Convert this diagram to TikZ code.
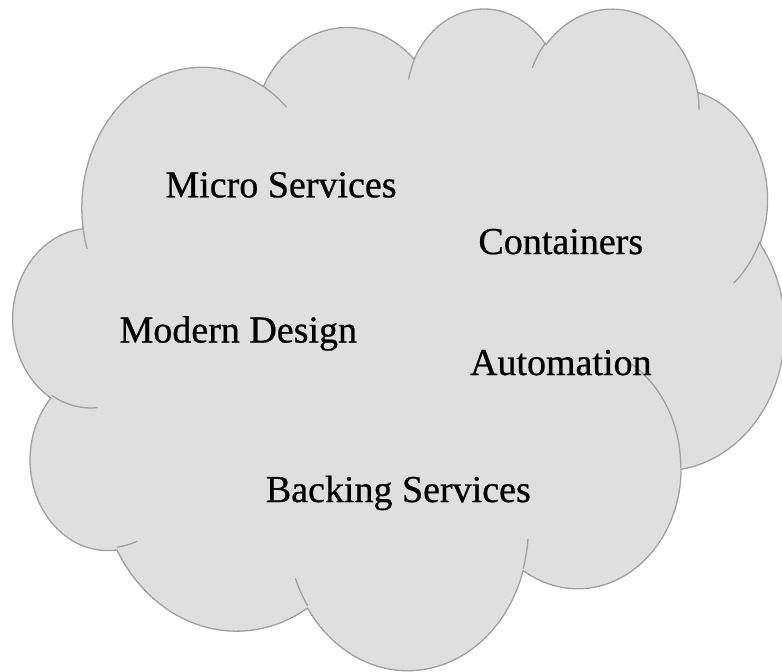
\documentclass[tikz,border=0pt]{standalone}
\usepackage{fontspec}
\setmainfont{Liberation Serif}
\newfontfamily\lblfont{Liberation Serif}[FakeBold=0.7]
\definecolor{cloudfill}{RGB}{223,223,223}
\definecolor{cloudline}{RGB}{160,160,160}
\begin{document}
\begin{tikzpicture}[x=1pt,y=-1pt,
  cloudshape/.style={fill=cloudfill, draw=cloudline, line width=1.3pt, line join=round},
  cloudinner/.style={draw=cloudline, line width=1.3pt, line cap=round},
  lbl/.style={font=\lblfont\fontsize{38}{44}\selectfont, inner sep=0pt, anchor=base, text=black}]
\useasboundingbox (0,0) rectangle (782,672);
\begin{scope}[shift={(13.3,6.9)}, x=1.78542pt, y=-1.53125pt]
\path[cloudshape] (39.00,143.70)
  arc[start angle=172.25, end angle=300.36, x radius=67.53, y radius=91.90]
  arc[start angle=-152.03, end angle=-45.46, x radius=53.33, y radius=72.67]
  arc[start angle=-153.50, end angle=-37.34, x radius=43.65, y radius=59.45]
  arc[start angle=-139.72, end angle=-10.21, x radius=48.57, y radius=65.95]
  arc[start angle=-74.77, end angle=23.21, x radius=53.33, y radius=72.73]
  arc[start angle=-37.52, end angle=81.86, x radius=67.75, y radius=92.20]
  arc[start angle=0.46, end angle=121.98, x radius=57.85, y radius=78.67]
  arc[start angle=16.84, end angle=146.22, x radius=67.52, y radius=92.15]
  arc[start angle=58.98, end angle=150.20, x radius=77.20, y radius=105.43]
  arc[start angle=83.31, end angle=223.12, x radius=43.60, y radius=59.18]
  arc[start angle=120.35, end angle=264.11, x radius=43.45, y radius=59.45]
  -- cycle;
\path[cloudinner]
  (46.93,261.77) arc[start angle=85.55, end angle=120.35, x radius=43.45, y radius=59.45]
  (69.28,348.99) arc[start angle=68.24, end angle=83.31, x radius=43.60, y radius=59.18]
  (164.78,390.90) arc[start angle=146.22, end angle=158.48, x radius=67.52, y radius=92.15]
  (288.27,347.51) arc[start angle=4.74, end angle=16.84, x radius=67.52, y radius=92.15]
  (341.29,229.54) arc[start angle=-64.03, end angle=0.46, x radius=57.85, y radius=78.67]
  (417.98,153.54) arc[start angle=23.21, end angle=49.65, x radius=53.33, y radius=72.73]
  (383.24,54.26) arc[start angle=-10.21, end angle=0.82, x radius=48.57, y radius=65.95]
  (290.78,39.52) arc[start angle=-156.29, end angle=-139.72, x radius=48.57, y radius=65.95]
  (221.41,47.20) arc[start angle=-167.73, end angle=-153.50, x radius=43.65, y radius=59.45]
  (140.00,51.92) arc[start angle=-59.64, end angle=-45.74, x radius=67.53, y radius=91.90]
  (41.27,157.89) arc[start angle=163.19, end angle=172.25, x radius=67.53, y radius=91.90];
\end{scope}
\node[lbl] (micro) at (281,197.3) {Micro Services};
\node[lbl] (containers) at (560.8,254) {Containers};
\node[lbl] (modern) at (238.3,342.5) {Modern Design};
\node[lbl] (automation) at (560.8,375) {Automation};
\node[lbl] (backing) at (398.3,502) {Backing Services};
\end{tikzpicture}
\end{document}
